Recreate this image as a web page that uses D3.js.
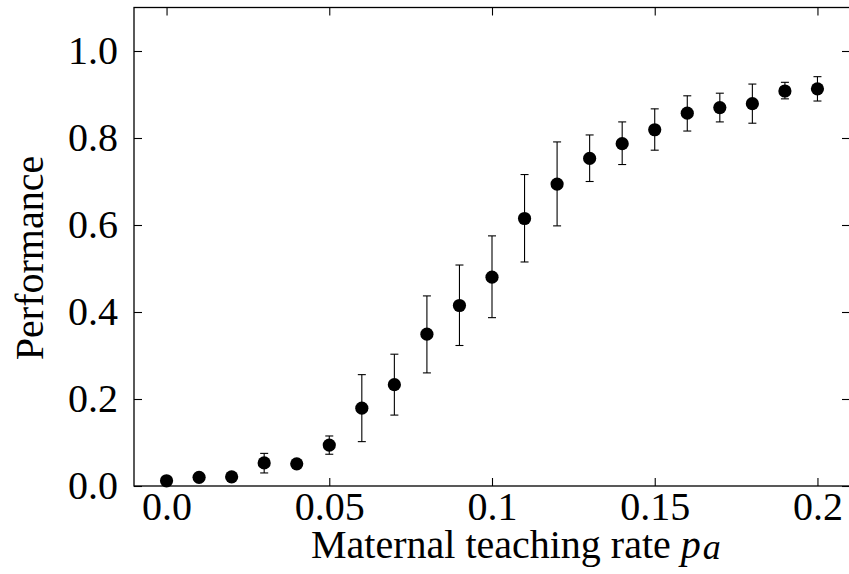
<!DOCTYPE html>
<html>
<head>
<meta charset="utf-8">
<script src="https://cdn.jsdelivr.net/npm/d3@7"></script>
<style>
  html, body { margin: 0; padding: 0; background: #fff; }
  svg { display: block; }
  text { font-family: "Liberation Serif", "Times New Roman", serif; fill: #000; }
</style>
</head>
<body>
<svg id="chart" width="849" height="574"></svg>
<script>
// Maternal teaching rate values (x) and mean performance with asymmetric error bounds
const rates = [0.00, 0.01, 0.02, 0.03, 0.04, 0.05, 0.06, 0.07, 0.08, 0.09, 0.10,
               0.11, 0.12, 0.13, 0.14, 0.15, 0.16, 0.17, 0.18, 0.19, 0.20];
const meanPerf = [0.012, 0.020, 0.021, 0.053, 0.051, 0.094, 0.179, 0.233, 0.349, 0.415, 0.480,
                  0.615, 0.694, 0.753, 0.787, 0.819, 0.857, 0.870, 0.879, 0.908, 0.913];
const upperPerf = [0.014, 0.023, 0.024, 0.075, 0.056, 0.115, 0.256, 0.303, 0.437, 0.508, 0.575,
                   0.716, 0.791, 0.807, 0.837, 0.867, 0.897, 0.903, 0.924, 0.928, 0.941];
const lowerPerf = [0.010, 0.017, 0.018, 0.030, 0.046, 0.073, 0.102, 0.163, 0.260, 0.323, 0.387,
                   0.515, 0.598, 0.700, 0.739, 0.772, 0.816, 0.837, 0.834, 0.890, 0.885];

const xTicks = [0, 0.05, 0.1, 0.15, 0.2];
const xTickLabels = ["0.0", "0.05", "0.1", "0.15", "0.2"];
const yTicks = [0, 0.2, 0.4, 0.6, 0.8, 1.0];
const yTickLabels = ["0.0", "0.2", "0.4", "0.6", "0.8", "1.0"];

const points = rates.map((r, i) => ({ x: r, y: meanPerf[i], hi: upperPerf[i], lo: lowerPerf[i] }));

const svg = d3.select("#chart");
const plotLeft = 134, plotRight = 850, plotTop = 7.5, plotBottom = 486;

const x = d3.scaleLinear().domain([-0.01, 0.21]).range([plotLeft, plotRight]);
const y = d3.scaleLinear().domain([0, 1.1]).range([plotBottom, plotTop]);

const fontSize = 40;

// Error bars
const eb = svg.append("g").attr("stroke", "#000").attr("stroke-width", 1.1);
points.forEach(d => {
  const cx = x(d.x);
  eb.append("line").attr("x1", cx).attr("x2", cx).attr("y1", y(d.lo)).attr("y2", y(d.hi));
  eb.append("line").attr("x1", cx - 4).attr("x2", cx + 4).attr("y1", y(d.hi)).attr("y2", y(d.hi));
  eb.append("line").attr("x1", cx - 4).attr("x2", cx + 4).attr("y1", y(d.lo)).attr("y2", y(d.lo));
});

// Markers
svg.append("g").selectAll("circle").data(points).join("circle")
  .attr("cx", d => x(d.x)).attr("cy", d => y(d.y)).attr("r", 6.6).attr("fill", "#000");

// Axes with inward ticks on all four sides
const xFmt = (v) => xTickLabels[xTicks.indexOf(v)];
const yFmt = (v) => yTickLabels[yTicks.indexOf(v)];

const gx = svg.append("g").attr("transform", `translate(0,${plotBottom})`)
  .call(d3.axisBottom(x).tickValues(xTicks).tickFormat(xFmt).tickSize(-8).tickPadding(6));
const gxTop = svg.append("g").attr("transform", `translate(0,${plotTop})`)
  .call(d3.axisTop(x).tickValues(xTicks).tickFormat("").tickSize(-8));
const gy = svg.append("g").attr("transform", `translate(${plotLeft},0)`)
  .call(d3.axisLeft(y).tickValues(yTicks).tickFormat(yFmt).tickSize(-8).tickPadding(16));
const gyRight = svg.append("g").attr("transform", `translate(${plotRight},0)`)
  .call(d3.axisRight(y).tickValues(yTicks).tickFormat("").tickSize(-8));

[gx, gxTop, gy, gyRight].forEach(g => {
  g.select(".domain").remove();
  g.selectAll(".tick line").attr("stroke", "#000").attr("stroke-width", 1.1);
  g.selectAll(".tick text").attr("font-size", fontSize)
    .attr("font-family", '"Liberation Serif", "Times New Roman", serif').attr("fill", "#000");
});

// Frame
svg.append("rect").attr("x", plotLeft).attr("y", plotTop)
  .attr("width", plotRight - plotLeft).attr("height", plotBottom - plotTop)
  .attr("fill", "none").attr("stroke", "#000").attr("stroke-width", 1.3);

// Axis labels
const xl = svg.append("text").attr("x", 311).attr("y", 558)
  .attr("font-size", fontSize).attr("text-anchor", "start");
xl.append("tspan").text("Maternal teaching rate ");
xl.append("tspan").attr("font-style", "italic").text("p");
xl.append("tspan").attr("font-style", "italic").attr("font-size", 36).attr("dx", 2).attr("dy", 1).text("a");

svg.append("text")
  .attr("transform", `translate(43,258) rotate(-90)`)
  .attr("text-anchor", "middle").attr("font-size", fontSize)
  .text("Performance");
</script>
</body>
</html>
